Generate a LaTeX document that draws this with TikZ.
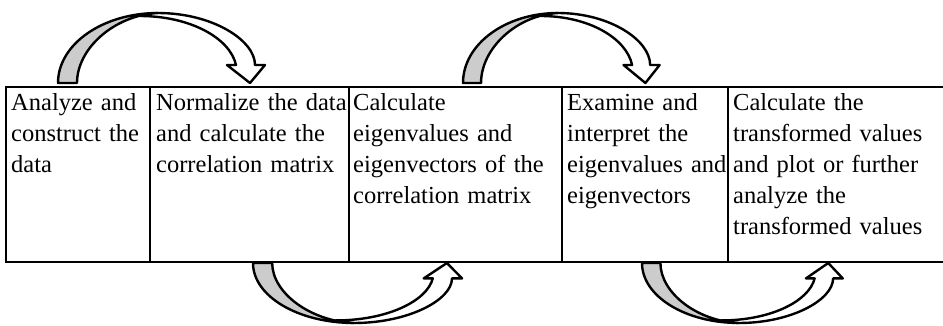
\documentclass[tikz,border=0pt]{standalone}
\usepackage{fontspec}
\setmainfont{Liberation Serif}
\definecolor{bandgray}{RGB}{204,204,204}
\begin{document}
\begin{tikzpicture}[x=1pt,y=-1pt,
  col/.style={draw, line width=1.8pt, anchor=north west, minimum height=175pt, inner sep=0pt, outer sep=0pt},
  txt/.style={anchor=north west, inner sep=0pt, text width=218pt, align=left, font=\fontsize{24.5}{31}\selectfont},
  band/.style={draw, line width=2.4pt, line join=round},
  carrow/.pic={
    \filldraw[band, fill=bandgray] (0,0) .. controls (0,39) and (45,70) .. (100,70)
      .. controls (57,68) and (19,35) .. (19,0) -- cycle;
    \filldraw[band, fill=white] (100,70) .. controls (154,70) and (197,43) .. (197,18)
      -- (207,18) -- (192,0) -- (169,18) -- (178,18)
      .. controls (172,45) and (132,67) .. (82,67)
      .. controls (88,68.5) and (94,69.8) .. (100,70) -- cycle;
  }]
\useasboundingbox (0,0) rectangle (943,325);
% columns
\node[col, minimum width=144pt] (c1) at (6,87) {};
\node[col, minimum width=199pt] (c2) at (150,87) {};
\node[col, minimum width=213pt] (c3) at (349,87) {};
\node[col, minimum width=166pt] (c4) at (562,87) {};
\node[col, minimum width=222pt] (c5) at (728,87) {};
% texts
\node[txt] (t1) at (11,88.3) {\strut Analyze and\\construct the\\data};
\node[txt] (t2) at (156,88.3) {\strut Normalize the data\\and calculate the\\correlation matrix};
\node[txt] (t3) at (353,88.3) {\strut Calculate\\eigenvalues and\\eigenvectors of the\\correlation matrix};
\node[txt] (t4) at (567,88.3) {\strut Examine and\\interpret the\\eigenvalues and\\eigenvectors};
\node[txt] (t5) at (733,88.3) {\strut Calculate the\\transformed values\\and plot or further\\analyze the\\transformed values};
% curved arrows
\pic (a1) [yscale=-1] at (58,83) {carrow};
\pic (a2) [xscale=0.95, yscale=-1] at (463,83) {carrow};
\pic (a3) [xscale=1.01, yscale=0.857] at (253,263) {carrow};
\pic (a4) [xscale=0.97, yscale=0.857] at (642,263) {carrow};
\end{tikzpicture}
\end{document}
